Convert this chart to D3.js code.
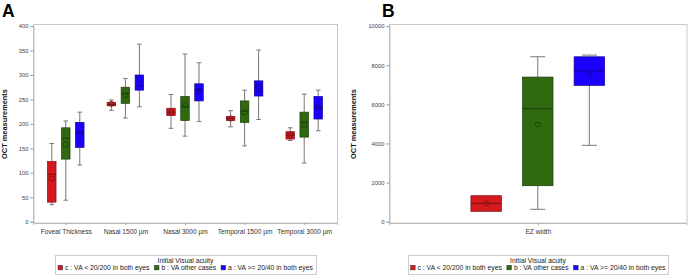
<!DOCTYPE html>
<html><head><meta charset="utf-8">
<script src="https://cdn.jsdelivr.net/npm/d3@7"></script>
<style>
body{margin:0;background:#fff;}
svg{display:block;font-family:"Liberation Sans",Arial,sans-serif;}
</style></head><body>
<svg id="c" width="689" height="276"></svg>
<script>
// ---- data ----
const categoriesA = ["Foveal Thickness","Nasal 1500 \u00b5m","Nasal 3000 \u00b5m","Temporal 1500 \u00b5m","Temporal 3000 \u00b5m"];
const categoriesB = ["EZ width"];
const groups = ["c","b","a"];
const groupLabels = ["c : VA < 20/200 in both eyes","b : VA other cases","a : VA >= 20/40 in both eyes"];
const groupColors = ["#d41a1f","#2f6a10","#1c00ff"];
const legendTitle = "Initial Visual acuity";
const yTitle = "OCT measurements";
const ticksA = [0,50,100,150,200,250,300,350,400];
const ticksB = [0,2000,4000,6000,8000,10000];
// per group: [min, q1, median, q3, max, mean] per category
const statsA_c = [[35,40,97,123,160,88],[228,237,240,244,249,241],[191,217,224,232,260,224],[194,207,211,215,227,211],[166,169,177,184,192,177]];
const statsA_b = [[44,128,171,192,206,158],[212,242,262,275,293,258],[175,207,235,256,343,239],[155,203,226,247,269,224],[120,173,204,224,261,197]];
const statsA_a = [[116,152,182,203,224,179],[235,269,278,300,363,290],[205,247,269,282,325,267],[209,257,266,288,351,276],[186,210,234,256,269,234]];
const statsB_c = [[531,531,940,1329,1329,940]];
const statsB_b = [[634,1840,5774,7394,8432,4967]];
const statsB_a = [[3904,6970,7716,8431,8518,7512]];

const svg = d3.select("#c");

function panel(opt){
  const g = svg.append("g");
  const x = d3.scalePoint().domain(opt.cats).range([opt.x0, opt.x1]).padding(opt.pad);
  const y = d3.scaleLinear().domain([0, opt.ymax]).range([221.7, 26.1]);
  // frame
  g.append("rect").attr("x",opt.x0+0.5).attr("y",24.5).attr("width",opt.x1-opt.x0).attr("height",198.5)
    .attr("fill","none").attr("stroke","#c8c8c8").attr("stroke-width",1);
  // y axis
  const ya = g.append("g").attr("transform",`translate(${opt.x0+0.5},0)`)
    .call(d3.axisLeft(y).tickValues(opt.ticks).tickSize(3).tickPadding(2).tickFormat(d3.format("d")));
  ya.select(".domain").attr("stroke","#bbb");
  ya.selectAll(".tick line").attr("stroke","#999");
  ya.selectAll("text").attr("font-size","5.8px").attr("fill","#444").attr("font-family",'"Liberation Sans",Arial,sans-serif');
  // x axis
  const xa = g.append("g").attr("transform",`translate(0,223)`)
    .call(d3.axisBottom(x).tickSize(2).tickPadding(4));
  xa.select(".domain").attr("stroke","#bbb");
  xa.selectAll(".tick line").attr("stroke","#999");
  xa.selectAll("text").attr("font-size","6.6px").attr("fill","#333").attr("font-family",'"Liberation Sans",Arial,sans-serif');
  // y title
  g.append("text").attr("transform",`translate(${opt.tx},124) rotate(-90)`).attr("text-anchor","middle")
    .attr("font-size","7.4px").attr("font-weight","bold").attr("fill","#111").text(yTitle);
  // panel letter
  g.append("text").attr("x",opt.lx).attr("y",16.8).attr("font-size","17.5px").attr("font-weight","bold")
    .attr("fill","#000").text(opt.letter);
  // boxes
  const offs = d3.scalePoint().domain(groups).range([-opt.off, opt.off]);
  opt.stats.forEach((st, gi) => {
    const edge = d3.color(groupColors[gi]).darker(1.6).formatHex();
    st.forEach((s, ci) => {
      const cx = x(opt.cats[ci]) + offs(groups[gi]);
      const [mn,q1,md,q3,mx,mean] = s;
      const w = opt.bw, cw = opt.cw;
      g.append("line").attr("x1",cx).attr("x2",cx).attr("y1",y(mx)).attr("y2",y(q3)).attr("stroke","#777").attr("stroke-width",1);
      g.append("line").attr("x1",cx).attr("x2",cx).attr("y1",y(q1)).attr("y2",y(mn)).attr("stroke","#777").attr("stroke-width",1);
      if (mx>q3) g.append("line").attr("x1",cx-cw/2).attr("x2",cx+cw/2).attr("y1",y(mx)).attr("y2",y(mx)).attr("stroke","#777");
      if (mn<q1) g.append("line").attr("x1",cx-cw/2).attr("x2",cx+cw/2).attr("y1",y(mn)).attr("y2",y(mn)).attr("stroke","#777");
      g.append("rect").attr("x",cx-w/2).attr("y",y(q3)).attr("width",w).attr("height",y(q1)-y(q3))
        .attr("fill",groupColors[gi]).attr("stroke",edge).attr("stroke-width",0.7);
      g.append("line").attr("x1",cx-w/2).attr("x2",cx+w/2).attr("y1",y(md)).attr("y2",y(md)).attr("stroke",edge).attr("stroke-width",1);
      g.append("circle").attr("cx",cx).attr("cy",y(mean)).attr("r",opt.r).attr("fill","none").attr("stroke",edge).attr("stroke-width",0.8);
    });
  });
  // legend
  const lg = g.append("g");
  lg.append("rect").attr("x",opt.lgx0+0.5).attr("y",255.5).attr("width",opt.lgx1-opt.lgx0).attr("height",19)
    .attr("fill","#fff").attr("stroke","#ccc");
  const cxl = (opt.lgx0+opt.lgx1)/2;
  lg.append("text").attr("x",cxl).attr("y",262.5).attr("text-anchor","middle").attr("font-size","6.8px").attr("fill","#222").text(legendTitle);
  const items = lg.append("g");
  let px = 0;
  groups.forEach((gk, i) => {
    items.append("rect").attr("x",px).attr("y",265.3).attr("width",4.6).attr("height",4.6)
      .attr("fill",groupColors[i]).attr("stroke","#333").attr("stroke-width",0.5);
    const t = items.append("text").attr("x",px+7).attr("y",270).attr("font-size","6.8px").attr("fill","#222").text(groupLabels[i]);
    px += 7 + t.node().getComputedTextLength() + 5;
  });
  const tw = px - 5;
  items.attr("transform",`translate(${cxl - tw/2},0)`);
}

panel({cats:categoriesA, x0:33, x1:337, pad:0.55, ymax:400, ticks:ticksA, tx:7, lx:2, letter:"A",
  stats:[statsA_c,statsA_b,statsA_a], off:14, bw:8.5, cw:4.6, r:2.6, lgx0:55, lgx1:316});
panel({cats:categoriesB, x0:389, x1:686.5, pad:0.5, ymax:10000, ticks:ticksB, tx:356, lx:382, letter:"B",
  stats:[statsB_c,statsB_b,statsB_a], off:51.6, bw:30.5, cw:15, r:2.4, lgx0:408, lgx1:668});
</script></body></html>
